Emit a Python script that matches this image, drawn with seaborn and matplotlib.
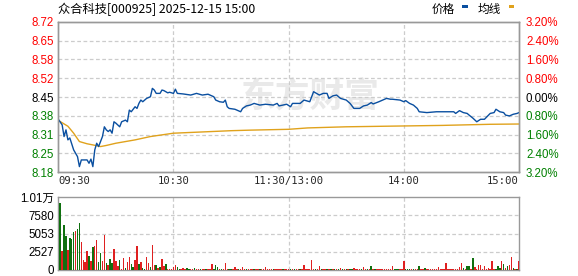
import matplotlib
matplotlib.use("Agg")
import matplotlib.pyplot as plt
from matplotlib.patches import Rectangle
import seaborn as sns
import pandas as pd

# ---------------- data ----------------
title = "众合科技[000925] 2025-12-15 15:00"
legend_labels = ["价格", "均线"]
watermark = "东方财富"
prev_close = 8.45
pct_ticks = [-3.2, -2.4, -1.6, -0.8, 0.0, 0.8, 1.6, 2.4, 3.2]
price_tick_labels = ["8.18", "8.25", "8.31", "8.38", "8.45", "8.52", "8.58", "8.65", "8.72"]
pct_tick_labels = ["3.20%", "2.40%", "1.60%", "0.80%", "0.00%", "0.80%", "1.60%", "2.40%", "3.20%"]
time_ticks = [0, 60, 120, 180, 240]
time_labels = ["09:30", "10:30", "11:30/13:00", "14:00", "15:00"]
vol_ticks = [0, 2527, 5053, 7580, 10107]
vol_tick_labels = ["0", "2527", "5053", "7580", "1.01万"]

price_min = [0, 2, 3, 4, 5, 6, 8, 10, 11, 12,
             15, 16, 17, 18, 19, 20, 21, 22, 23, 24,
             25, 26, 27, 28, 29, 30, 32, 33, 35, 36,
             37, 38, 40, 41, 42, 43, 44, 46, 48, 49,
             50, 51, 53, 54, 55, 57, 58, 60, 61, 62,
             65, 69, 72, 75, 78, 81, 82, 84, 86, 87,
             88, 89, 92, 95, 96, 98, 100, 102, 105, 108,
             112, 114, 115, 119, 121, 122, 126, 128, 129, 131,
             133, 134, 136, 138, 140, 141, 143, 145, 147, 150,
             152, 154, 157, 159, 161, 163, 164, 167, 171, 173,
             174, 178, 180, 181, 183, 185, 187, 188, 192, 197,
             202, 206, 207, 209, 211, 213, 214, 216, 218, 220,
             222, 225, 227, 228, 230, 232, 233, 235, 237, 239,
             240]
price = [8.370, 8.350, 8.308, 8.332, 8.296, 8.303, 8.260, 8.236, 8.200, 8.224,
         8.224, 8.212, 8.227, 8.200, 8.260, 8.284, 8.272, 8.290, 8.308, 8.343,
         8.332, 8.326, 8.332, 8.320, 8.361, 8.356, 8.343, 8.361, 8.367, 8.361,
         8.403, 8.397, 8.415, 8.409, 8.427, 8.439, 8.433, 8.445, 8.451, 8.481,
         8.475, 8.463, 8.463, 8.475, 8.473, 8.465, 8.467, 8.463, 8.478, 8.463,
         8.461, 8.457, 8.463, 8.457, 8.460, 8.451, 8.439, 8.433, 8.431, 8.439,
         8.415, 8.409, 8.406, 8.397, 8.409, 8.418, 8.421, 8.427, 8.421, 8.424,
         8.421, 8.427, 8.418, 8.424, 8.415, 8.427, 8.427, 8.439, 8.437, 8.433,
         8.469, 8.465, 8.457, 8.463, 8.463, 8.445, 8.454, 8.457, 8.445, 8.439,
         8.427, 8.409, 8.409, 8.418, 8.421, 8.430, 8.425, 8.433, 8.445, 8.442,
         8.442, 8.439, 8.433, 8.437, 8.427, 8.421, 8.409, 8.397, 8.394, 8.397,
         8.397, 8.397, 8.391, 8.401, 8.394, 8.391, 8.385, 8.374, 8.361, 8.370,
         8.370, 8.391, 8.394, 8.406, 8.397, 8.394, 8.385, 8.382, 8.388, 8.391,
         8.394]

avg_min = [0, 5, 8, 11, 15, 18, 22, 25, 30, 40, 48, 60, 80, 90, 100, 120, 130, 150, 180, 200, 225, 240]
avg_price = [8.366, 8.345, 8.320, 8.290, 8.282, 8.278, 8.272, 8.276, 8.284, 8.296, 8.308, 8.320,
             8.326, 8.329, 8.331, 8.334, 8.339, 8.343, 8.346, 8.348, 8.352, 8.353]

volume = [0, 9318, 2616, 6288, 4682, 2754, 4498, 4269, 5279, 5462,
          5738, 6472, 3810, 1377, 1056, 2616, 1928, 1239, 3121, 3305,
          4131, 1056, 2295, 1239, 4911, 918, 689, 1515, 918, 2892,
          1239, 551, 1377, 150, 1698, 321, 1148, 1836, 826, 459,
          1377, 3305, 826, 1148, 230, 150, 1836, 1010, 459, 3443,
          689, 689, 321, 459, 1515, 551, 826, 150, 150, 150,
          459, 690, 460, 150, 140, 320, 140, 230, 140, 140,
          140, 230, 140, 140, 140, 140, 140, 140, 140, 140,
          826, 140, 690, 460, 140, 140, 140, 964, 140, 140,
          140, 140, 460, 140, 140, 140, 460, 140, 140, 140,
          140, 140, 140, 140, 140, 140, 140, 140, 414, 140,
          140, 140, 140, 140, 140, 140, 140, 140, 140, 140,
          140, 140, 140, 140, 140, 140, 140, 140, 690, 140,
          140, 140, 1377, 140, 140, 140, 550, 140, 140, 140,
          140, 140, 140, 140, 140, 140, 140, 280, 140, 140,
          140, 140, 140, 140, 280, 140, 140, 140, 140, 460,
          140, 140, 140, 550, 140, 140, 140, 140, 140, 140,
          140, 140, 140, 140, 550, 140, 140, 140, 140, 140,
          1240, 140, 140, 140, 140, 140, 140, 140, 550, 140,
          140, 320, 140, 140, 140, 140, 140, 140, 400, 140,
          140, 140, 964, 140, 140, 140, 140, 140, 140, 400,
          964, 280, 140, 550, 550, 140, 1652, 400, 140, 690,
          690, 140, 550, 140, 320, 140, 1240, 140, 140, 550,
          320, 1240, 826, 280, 550, 690, 1790, 230, 140, 140,
          1240]
direction = ("rgrggrgggr" "ggrrrrgrgr" "rggrrgrggr" "rrgrrgrrgg" "rrgrggrrgr"
             "rgrgrrgrrr" "rrggrrrggr" "rgrrgrrgrr" "rgggrgrrrg" "grrrgrrrgr"
             "rrgrrgrrrr" "rrgrrrrgrr" "rgrgrrgrrr" "rrrrgrrgrr" "grgrgrgrgr"
             "grggrrrrgr" "rgrgrgrrrr" "rrrrrgggrr" "rgggrgrrgr" "rgrrrrrrrr"
             "rrrrrrrrrr" "rgrggrgrrr" "rrrrrrrrgg" "grgrgrrgrg" "r")

# ---------------- style ----------------
sns.set_style("white")
plt.rcParams["font.family"] = ["Liberation Sans", "Noto Sans CJK SC", "DejaVu Sans"]
plt.rcParams["axes.unicode_minus"] = False

RED = "#ff0000"
GREEN = "#008000"
BLUE = "#0a4fa0"
GOLD = "#e0a21c"
FRAME = "#999999"
GRID = "#cccccc"
W, H = 578, 276

fig = plt.figure(figsize=(W / 100, H / 100), dpi=100)
fig.patch.set_facecolor("white")

x0, x1 = 58.3, 519.0
ax = fig.add_axes([x0 / W, 1 - 172.3 / H, (x1 - x0) / W, (172.3 - 21.7) / H])
axv = fig.add_axes([x0 / W, 1 - 270.0 / H, (x1 - x0) / W, (270.0 - 197.0) / H])

# watermark
ax.text(310 / W, 1 - 96 / H, watermark, transform=fig.transFigure, ha="center", va="center",
        fontsize=25, color="#e9e9e9", fontweight="bold", family=["Noto Sans CJK SC"], zorder=0)

price_df = pd.DataFrame({"minute": price_min, "price": price})
avg_df = pd.DataFrame({"minute": avg_min, "price": avg_price})
sns.lineplot(data=avg_df, x="minute", y="price", color=GOLD, lw=1.0, ax=ax, zorder=3)
sns.lineplot(data=price_df, x="minute", y="price", color=BLUE, lw=1.0, ax=ax, zorder=4)

ylo = prev_close * (1 + pct_ticks[0] / 100)
yhi = prev_close * (1 + pct_ticks[-1] / 100)
ytick_pos = [prev_close * (1 + p / 100) for p in pct_ticks]
ax.set_xlim(time_ticks[0], time_ticks[-1])
ax.set_ylim(ylo, yhi)
ax.set_xlabel("")
ax.set_ylabel("")

for yp in ytick_pos[1:-1]:
    ax.axhline(yp, color=GRID, lw=0.9, ls=(0, (3, 2)), zorder=1)
for xt in time_ticks[1:-1]:
    ax.axvline(xt, color=GRID, lw=0.9, ls=(0, (3, 2)), zorder=1)

def tick_color(p):
    if p > 0:
        return RED
    if p < 0:
        return GREEN
    return "black"

ax.set_yticks(ytick_pos)
ax.set_yticklabels(price_tick_labels)
for lab, p in zip(ax.get_yticklabels(), pct_ticks):
    lab.set_color(tick_color(p))
ax.tick_params(axis="y", length=0, pad=3, labelsize=8.3)

ax2 = ax.twinx()
ax2.set_ylim(ylo, yhi)
ax2.set_yticks(ytick_pos)
ax2.set_yticklabels(pct_tick_labels)
for lab, p in zip(ax2.get_yticklabels(), pct_ticks):
    lab.set_color(tick_color(p))
ax2.tick_params(axis="y", length=0, pad=5, labelsize=8.3)

ax.set_xticks(time_ticks)
ax.set_xticklabels(time_labels, family=["DejaVu Sans Mono"], fontsize=7.6)
aligns = ["left", "center", "center", "center", "right"]
for lab, al in zip(ax.get_xticklabels(), aligns):
    lab.set_horizontalalignment(al)
ax.tick_params(axis="x", length=0, pad=3)

for a in (ax, ax2, axv):
    for s in a.spines.values():
        s.set_color(FRAME)
        s.set_linewidth(1.0)

# ---------------- volume ----------------
vol_df = pd.DataFrame({"minute": list(range(len(volume))), "volume": volume,
                       "dir": list(direction)})
for d, col in (("r", RED), ("g", GREEN)):
    sub = vol_df[vol_df["dir"] == d]
    sns.barplot(data=sub, x="minute", y="volume", color=col, native_scale=True,
                width=0.8, errorbar=None, linewidth=0, ax=axv, zorder=3)
for p in axv.patches:
    w = p.get_width()
    cx = p.get_x() + w / 2
    p.set_width(0.75)
    p.set_x(cx - 0.375)
    p.set_antialiased(False)
axv.set_xlim(time_ticks[0], time_ticks[-1])
axv.set_ylim(vol_ticks[0], vol_ticks[-1])
axv.set_xlabel("")
axv.set_ylabel("")
for yv in vol_ticks[1:-1]:
    axv.axhline(yv, color=GRID, lw=0.9, ls=(0, (3, 2)), zorder=1)
for xt in time_ticks[1:-1]:
    axv.axvline(xt, color=GRID, lw=0.9, ls=(0, (3, 2)), zorder=1)
axv.set_xticks([])
axv.set_yticks(vol_ticks)
axv.set_yticklabels(vol_tick_labels)
axv.tick_params(axis="y", length=0, pad=3, labelsize=8.3, colors="black")

# ---------------- header ----------------
fig.text(58.5 / W, 1 - 9 / H, title, ha="left", va="center", fontsize=8.8,
         family=["Noto Sans CJK SC", "DejaVu Sans"], color="black")
fig.text(431.5 / W, 1 - 9 / H, legend_labels[0], ha="left", va="center", fontsize=8.4,
         family=["Noto Sans CJK SC"], color="black")
fig.text(477.5 / W, 1 - 9 / H, legend_labels[1], ha="left", va="center", fontsize=8.4,
         family=["Noto Sans CJK SC"], color="black")
fig.patches.append(Rectangle((462 / W, 1 - 8 / H), 5.5 / W, 3 / H, transform=fig.transFigure,
                             facecolor=BLUE, edgecolor="none"))
fig.patches.append(Rectangle((508.5 / W, 1 - 8 / H), 5 / W, 3 / H, transform=fig.transFigure,
                             facecolor=GOLD, edgecolor="none"))

fig.savefig("out.png", dpi=100)
